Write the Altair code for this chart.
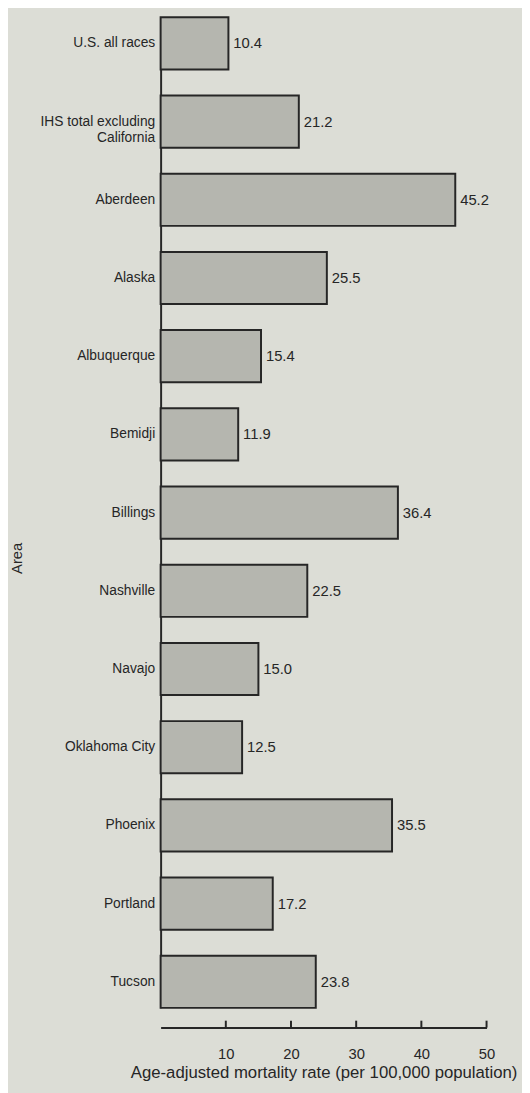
import altair as alt
import pandas as pd

areas = [
    "U.S. all races",
    "IHS total excluding|California",
    "Aberdeen",
    "Alaska",
    "Albuquerque",
    "Bemidji",
    "Billings",
    "Nashville",
    "Navajo",
    "Oklahoma City",
    "Phoenix",
    "Portland",
    "Tucson",
]
rates = [10.4, 21.2, 45.2, 25.5, 15.4, 11.9, 36.4, 22.5, 15.0, 12.5, 35.5, 17.2, 23.8]
x_ticks = [10, 20, 30, 40, 50]

df = pd.DataFrame({"area": areas, "rate": rates})
ticks_df = pd.DataFrame({"t": x_ticks})

W, H = 331, 1027
INK = "#262626"
FONT = "Liberation Sans"

x_scale = alt.Scale(domain=[0, 50], nice=False, zero=True)
y_scale = alt.Scale(paddingInner=0.333, paddingOuter=0, range=[1, 1007])

x_enc = alt.X(
    "rate:Q",
    scale=x_scale,
    axis=alt.Axis(
        values=x_ticks,
        ticks=False,
        grid=False,
        labelFlush=False,
        labelPadding=19,
        labelFontSize=15,
        labelFont=FONT,
        labelColor=INK,
        title="Age-adjusted mortality rate (per 100,000 population)",
        titleFont=FONT,
        titleFontSize=17,
        titleFontWeight="normal",
        titleColor=INK,
        titlePadding=4,
        domainColor=INK,
        domainWidth=2,
    ),
)
y_enc = alt.Y(
    "area:N",
    sort=None,
    scale=y_scale,
    axis=alt.Axis(
        ticks=False,
        grid=False,
        labelExpr="split(datum.label, '|')",
        labelPadding=6,
        labelFontSize=14,
        labelFont=FONT,
        labelColor=INK,
        labelLineHeight=17,
        labelBaseline="middle",
        title="Area",
        titleFont=FONT,
        titleFontSize=15,
        titleFontWeight="normal",
        titleColor=INK,
        titleX=-146,
        titleY=550,
        titleAngle=-90,
        titleAlign="center",
        titleBaseline="middle",
        domainColor=INK,
        domainWidth=2,
    ),
)

bars = alt.Chart(df).mark_bar(
    color="#b5b6af", stroke=INK, strokeWidth=2
).encode(x=x_enc, y=y_enc)

labels = alt.Chart(df).mark_text(
    align="left", baseline="middle", dx=5, fontSize=15, font=FONT, color=INK
).encode(
    x=alt.X("rate:Q", scale=x_scale),
    y=alt.Y("area:N", sort=None, scale=y_scale),
    text=alt.Text("rate:Q", format=".1f"),
)

tick_marks = alt.Chart(ticks_df).mark_rule(color=INK, strokeWidth=2).encode(
    x=alt.X("t:Q", scale=x_scale),
    y=alt.value(H),
    y2=alt.value(H - 7),
)

chart = (
    alt.layer(bars, labels, tick_marks)
    .properties(
        width=W,
        height=H,
        autosize=alt.AutoSizeParams(type="none"),
        padding={"left": 155, "top": 0, "right": 36, "bottom": 58},
        background="#dcddd6",
    )
    .configure_view(stroke=None)
)

chart.save("out.html", embed_options={"renderer": "svg", "actions": False})
